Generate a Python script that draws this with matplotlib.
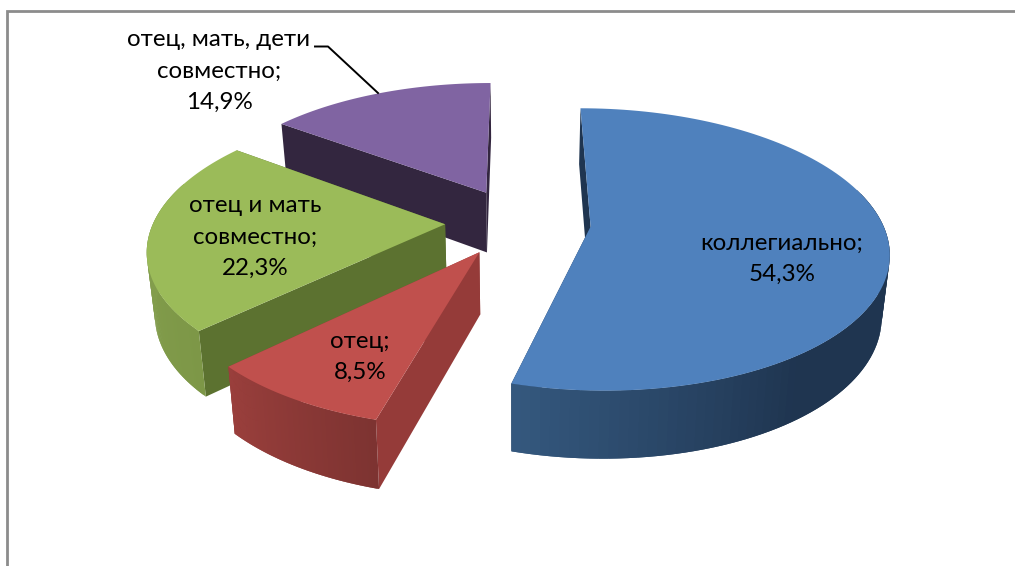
import matplotlib.pyplot as plt
import numpy as np
from matplotlib.colors import to_rgb
from matplotlib.patches import Polygon

plt.rcParams['font.family'] = ['Lato', 'Open Sans', 'DejaVu Sans']

shares = [54.3, 8.5, 22.3, 14.9]
names = ['коллегиально;\n54,3%', 'отец;\n8,5%', 'отец и мать\nсовместно;\n22,3%',
         'отец, мать, дети\nсовместно;\n14,9%']
top_colors = ['#4F81BD', '#C0504D', '#9BBB59', '#8064A2']
inner_colors = ['#1F3550', '#953B39', '#5C7230', '#33263F']
wall_from = ['#35597F', '#9A3F3C', '#8AA653', '#5A4672']
wall_to = ['#1F3550', '#7D3331', '#7D9747', '#4A3A60']
label_xy = [(782, 259), (360, 357), (255, 237), (219, 71)]
draw_order = [3, 2, 1, 0]

# camera guess for the excel 3d pie
cx, cy = 518, 222
R, T = 291.5, 136
explode = 0.25
persp = 0.161
depth = 61
shrink = 0.022


def project(x, y, z=0.0):
    s = 1 / (1 + persp * y)
    sx = cx + R * x * s * (1 - shrink * z)
    sy = cy - T * y * s + depth * z * s ** 0.6
    return np.column_stack([sx, sy])


fig = plt.figure(figsize=(10.15, 5.66), dpi=100)
ax = fig.add_axes([0, 0, 1, 1])
ax.set_xlim(0, 1015)
ax.set_ylim(566, 0)
ax.axis('off')

# chart frame, only left and top edges are in the picture
ax.plot([7, 7, 1015], [566, 11, 11], color='#8C8C8C', lw=2, solid_joinstyle='miter')

edges = np.cumsum([0] + shares) / sum(shares) * 2 * np.pi

for i in draw_order:
    a0, a1 = edges[i], edges[i + 1]
    mid = (a0 + a1) / 2
    ox, oy = explode * np.sin(mid), explode * np.cos(mid)
    t = np.linspace(a0, a1, 120)
    rim_x = ox + np.sin(t)
    rim_y = oy + np.cos(t)
    apex = np.array([ox]), np.array([oy])

    # flat cut faces
    for a in (a0, a1):
        ex, ey = np.array([ox + np.sin(a)]), np.array([oy + np.cos(a)])
        quad = np.vstack([project(*apex), project(ex, ey), project(ex, ey, 1), project(*apex, 1)])
        ax.add_patch(Polygon(quad, fc=inner_colors[i], lw=0))

    # outer wall, shaded strip by strip, strips overlap to hide seams
    c0 = np.array(to_rgb(wall_from[i]))
    c1 = np.array(to_rgb(wall_to[i]))
    for j in range(len(t) - 1):
        if np.cos(t[j]) > 0.3:
            continue
        px = project(rim_x[j:j + 3], rim_y[j:j + 3])
        pz = project(rim_x[j:j + 3], rim_y[j:j + 3], 1)
        if i == 0:
            f = np.clip((a1 - t[j]) / (a1 - np.pi * 0.8), 0, 1)
        else:
            # light side is on the left of the slice
            f = (a1 - t[j]) / (a1 - a0)
        ax.add_patch(Polygon(np.vstack([px, pz[::-1]]), fc=c0 + (c1 - c0) * f, lw=0))

    # top face
    top = np.vstack([project(*apex), project(rim_x, rim_y)])
    ax.add_patch(Polygon(top, fc=top_colors[i], lw=0))

for name, xy in zip(names, label_xy):
    ax.text(xy[0], xy[1], name, ha='center', va='center', fontsize=17.4,
            linespacing=1.6, color='black')

# leader line for the small label
ax.plot([315, 328, 378], [46.5, 46.5, 93], color='black', lw=1.4)

fig.savefig('out.png', dpi=100)
